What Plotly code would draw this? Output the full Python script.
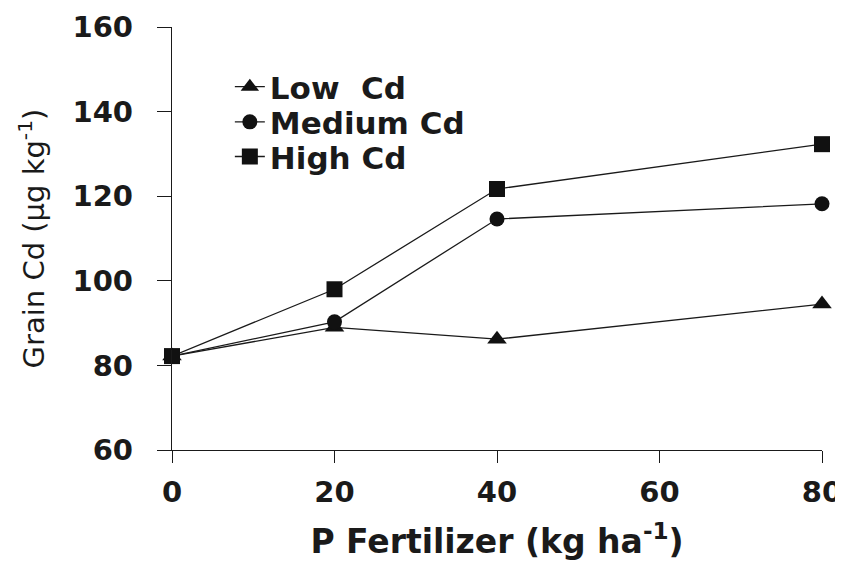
import plotly.graph_objects as go

x_vals = [0, 20, 40, 80]
low_cd = [82.2, 89.0, 86.2, 94.5]
medium_cd = [82.2, 90.3, 114.6, 118.2]
high_cd = [82.2, 98.0, 121.7, 132.3]
series_names = ["Low\u00a0 Cd", "Medium Cd", "High Cd"]
x_ticks = [0, 20, 40, 60, 80]
y_ticks = [60, 80, 100, 120, 140, 160]

bold_font = "DejaVu Sans, Liberation Sans, Arial, sans-serif"

fig = go.Figure()
symbols = ["triangle-up", "circle", "square"]
sizes = [17, 15, 16]
legend_ids = ["legend", "legend2", "legend3"]
for name, vals, sym, sz, lg in zip(series_names, [low_cd, medium_cd, high_cd], symbols, sizes, legend_ids):
    fig.add_trace(go.Scatter(
        x=x_vals, y=vals, name=name, mode="lines+markers",
        line=dict(color="#1a1a1a", width=1.3),
        marker=dict(symbol=sym, size=sz, color="#111111"),
        cliponaxis=False, legend=lg,
    ))

legend_font = dict(size=31, family=bold_font, weight="bold", color="#1a1a1a")
legend_common = dict(x=0.089, xanchor="left", yanchor="middle",
                     bgcolor="rgba(0,0,0,0)", font=legend_font)

fig.update_layout(
    width=835, height=553,
    margin=dict(l=164, r=21, t=19, b=111),
    paper_bgcolor="white", plot_bgcolor="white",
    font=dict(family=bold_font, color="#1a1a1a"),
    showlegend=True,
    legend=dict(y=0.858, **legend_common),
    legend2=dict(y=0.775, **legend_common),
    legend3=dict(y=0.693, **legend_common),
    xaxis=dict(
        range=[0, 80], tickvals=x_ticks, ticktext=[str(v) for v in x_ticks],
        showline=True, linecolor="#1a1a1a", linewidth=1.3,
        ticks="outside", ticklen=12, tickwidth=1.3, tickcolor="#1a1a1a",
        showgrid=False, zeroline=False, automargin=False,
        ticklabelstandoff=4,
        tickfont=dict(size=29, family=bold_font, weight="bold"),
        title=dict(text="P Fertilizer (kg ha<sup>-1</sup>)", standoff=23,
                   font=dict(size=33, family=bold_font, weight="bold")),
    ),
    yaxis=dict(
        range=[60, 160], tickvals=y_ticks, ticktext=[str(v) for v in y_ticks],
        showline=True, linecolor="#1a1a1a", linewidth=1.3,
        ticks="outside", ticklen=14, tickwidth=1.3, tickcolor="#1a1a1a",
        showgrid=False, zeroline=False, automargin=False,
        ticklabelstandoff=18,
        tickfont=dict(size=29, family=bold_font, weight="bold"),
        title=dict(text="Grain Cd (µg kg<sup>-1</sup>)", standoff=19,
                   font=dict(size=29, family=bold_font)),
    ),
)

fig.write_html("out.html")
